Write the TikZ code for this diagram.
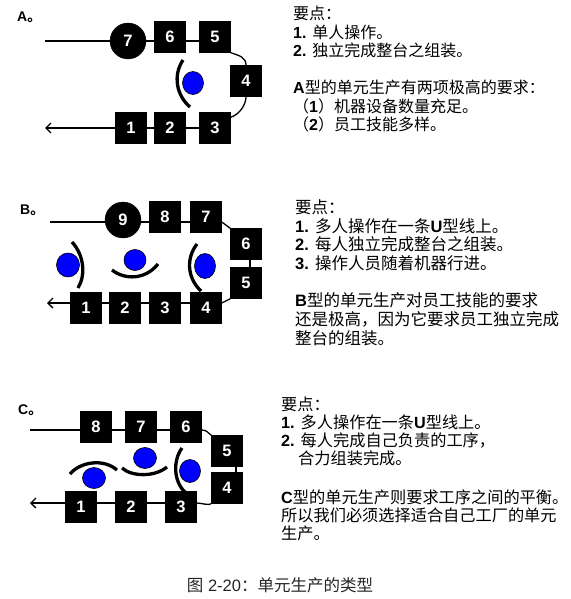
\documentclass[tikz,border=0pt]{standalone}
\usepackage{fontspec}
\setmainfont{Liberation Sans}
\newfontfamily\cjk{Noto Sans CJK SC}
\usepackage{tikz}
\usetikzlibrary{arrows.meta,shapes.geometric,backgrounds}
\newcommand\zh[1]{{\cjk #1}}
\tikzset{
  machine/.style={draw=black, fill=black, text=white, minimum size=31pt, inner sep=0pt,
    font=\fontsize{16.5}{16.5}\selectfont\bfseries},
  lead/.style={machine, circle, minimum size=36pt},
  worker/.style={draw=black, line width=0.6pt, fill=blue, ellipse, inner sep=0pt,
    minimum width=22pt, minimum height=24pt},
  link/.style={draw=black, line width=1.3pt},
  outflow/.style={link, -{Straight Barb[length=5pt,width=10pt]}},
  arm/.style={draw=black, line width=3.3pt},
  tag/.style={anchor=base west, inner sep=0pt, font=\fontsize{14}{14}\selectfont\bfseries},
  note/.style={anchor=base west, inner sep=0pt, align=left},
}
\begin{document}
\begin{tikzpicture}[x=1pt, y=-1pt]
  \useasboundingbox (0,0) rectangle (570,599);
  % A型
  \node[tag] (labA) at (17,22) {A\zh{。}};
  \coordinate (ainA) at (45,41);
  \coordinate (aoutA) at (45,128);
  \node[lead] (a7) at (128,41) {7};
  \node[machine] (a6) at (170,37) {6};
  \node[machine] (a5) at (215,37) {5};
  \node[machine] (a4) at (246,81) {4};
  \node[machine] (a3) at (215,128) {3};
  \node[machine] (a2) at (170,128) {2};
  \node[machine] (a1) at (131,128) {1};
  \node[worker, minimum width=21pt, minimum height=23pt] (wa) at (193,83) {};
  \draw[arm] (183,60) .. controls (173,75) and (176,95) .. (190,107);
  \begin{scope}[on background layer]
    \draw[link] (ainA) -- (ainA -| a5.center);
    \draw[link] (a5.south east) .. controls +(9,3) and +(0,-8) .. (a4.north);
    \draw[link] (a4.south) .. controls +(0,8) and +(9,-3) .. ([yshift=-5pt]a3.north east);
    \draw[link] (a3) -- (a1);
    \draw[outflow] (a1) -- (aoutA);
  \end{scope}
  % 文字（基线取最后一行）
  \node[note, font=\fontsize{16}{18.5}\selectfont] (txtA) at (293,131)
    {\zh{要点：}\\
     \textbf{1.} \zh{单人操作。}\\
     \textbf{2.} \zh{独立完成整台之组装。}\\[18.5pt]
     \textbf{A}\zh{型的单元生产有两项极高的要求：}\\
     \zh{（}\textbf{1}\zh{）机器设备数量充足。}\\
     \zh{（}\textbf{2}\zh{）员工技能多样。}};
  % B型
  \node[tag] (labB) at (20,214) {B\zh{。}};
  \coordinate (binB) at (50,222);
  \coordinate (boutB) at (47,303);
  \node[lead] (b9) at (123,220) {9};
  \node[machine] (b8) at (165,217) {8};
  \node[machine] (b7) at (206,217) {7};
  \node[machine] (b6) at (246,244) {6};
  \node[machine] (b5) at (246,283) {5};
  \node[machine] (b4) at (206,308) {4};
  \node[machine] (b3) at (165,308) {3};
  \node[machine] (b2) at (125,308) {2};
  \node[machine] (b1) at (86,308) {1};
  \node[worker, minimum width=23pt] (wb1) at (68,265) {};
  \node[worker, minimum height=21pt] (wb2) at (135,260) {};
  \node[worker, minimum width=21pt, minimum height=25pt] (wb3) at (205,266) {};
  \draw[arm] (72,242) .. controls (84,255) and (86,275) .. (78,288);
  \draw[arm] (112,270) .. controls (125,280) and (145,280) .. (158,264);
  \draw[arm] (197,244) .. controls (186,258) and (187,278) .. (201,291);
  \begin{scope}[on background layer]
    \draw[link] (binB) -- (binB -| b7.center);
    \draw[link] (b7.east |- binB) -- (b6.north west);
    \draw[link] ([xshift=4pt]b6.center) -- ([xshift=4pt]b5.center);
    \draw[link] (b5.south west) -- (b4.east |- boutB);
    \draw[link] (b4.center |- boutB) -- (b1.center |- boutB);
    \draw[outflow] (b1.center |- boutB) -- (boutB);
  \end{scope}
  \node[note, font=\fontsize{16.5}{18.7}\selectfont] (txtB) at (295,344)
    {\zh{要点：}\\
     \textbf{1.} \zh{多人操作在一条}\textbf{U}\zh{型线上。}\\
     \textbf{2.} \zh{每人独立完成整台之组装。}\\
     \textbf{3.} \zh{操作人员随着机器行进。}\\[18.5pt]
     \textbf{B}\zh{型的单元生产对员工技能的要求}\\
     \zh{还是极高，因为它要求员工独立完成}\\
     \zh{整台的组装。}};
  % C型
  \node[tag] (labC) at (18,414) {C\zh{。}};
  \coordinate (cinC) at (30,430);
  \coordinate (coutC) at (30,503);
  \node[machine] (c8) at (96,427) {8};
  \node[machine] (c7) at (141,427) {7};
  \node[machine] (c6) at (186,427) {6};
  \node[machine] (c5) at (227,451) {5};
  \node[machine] (c4) at (227,488) {4};
  \node[machine] (c3) at (181,507) {3};
  \node[machine] (c2) at (131,507) {2};
  \node[machine] (c1) at (81,507) {1};
  \node[worker, minimum width=23pt, minimum height=21pt] (wc1) at (94,478) {};
  \node[worker, minimum width=23pt, minimum height=21pt] (wc2) at (145,458) {};
  \node[worker, minimum width=21pt, minimum height=23pt] (wc3) at (190,471) {};
  \draw[arm] (70,474) .. controls (80,462) and (103,458) .. (117,470);
  \draw[arm] (122,468) .. controls (132,477) and (155,477) .. (167,467);
  \draw[arm] (182,448) .. controls (173,460) and (173,482) .. (186,493);
  \begin{scope}[on background layer]
    \draw[link] (cinC) -- (cinC -| c6.center);
    \draw[link] (c6.east |- cinC) .. controls +(5,0) and +(-4,-3) .. (c5.north west);
    \draw[link] ([xshift=9pt]c5.center) -- ([xshift=9pt]c4.center);
    \draw[link] (c4.south west) .. controls +(-2,2) and +(4,0) .. (c3.east |- coutC);
    \draw[link] (c3.center |- coutC) -- (c1.center |- coutC);
    \draw[outflow] (c1.center |- coutC) -- (coutC);
  \end{scope}
  \node[note, font=\fontsize{16.2}{18}\selectfont] (txtC) at (281,539)
    {\zh{要点：}\\
     \textbf{1.} \zh{多人操作在一条}\textbf{U}\zh{型线上。}\\
     \textbf{2.} \zh{每人完成自己负责的工序，}\\
     \hspace*{17pt}\zh{合力组装完成。}\\[21pt]
     \textbf{C}\zh{型的单元生产则要求工序之间的平衡。}\\
     \zh{所以我们必须选择适合自己工厂的单元}\\
     \zh{生产。}};
  % 图题
  \node[anchor=base, inner sep=0pt, text=black!85, font=\fontsize{16.5}{16.5}\selectfont]
    (cap) at (280,591) {\zh{图} 2-20\zh{：单元生产的类型}};
\end{tikzpicture}
\end{document}
